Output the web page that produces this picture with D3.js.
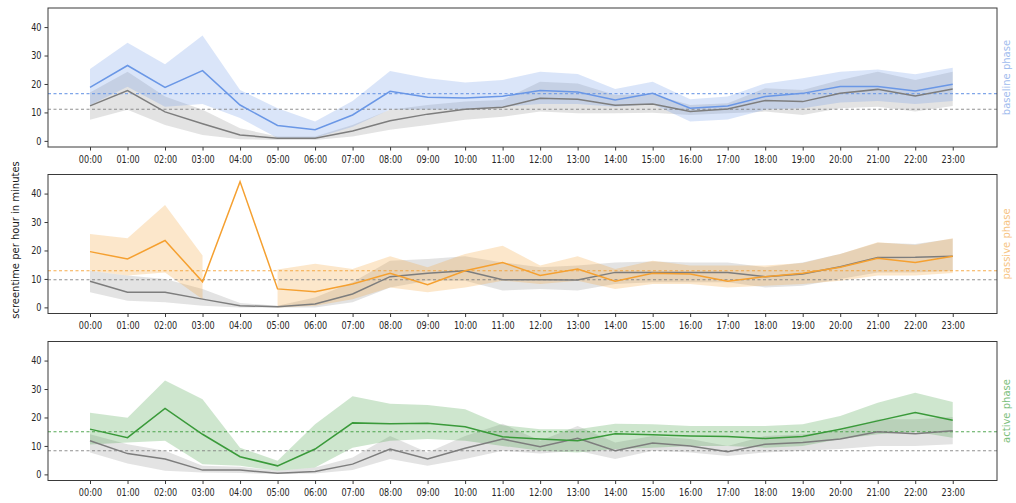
<!DOCTYPE html>
<html><head><meta charset="utf-8">
<script src="https://cdn.jsdelivr.net/npm/d3@7"></script>
<style>body{margin:0;background:#fff}svg{display:block}</style>
</head><body>
<svg id="c" width="1016" height="503"></svg>
<script>
const hours = ["00:00","01:00","02:00","03:00","04:00","05:00","06:00","07:00","08:00","09:00","10:00","11:00","12:00","13:00","14:00","15:00","16:00","17:00","18:00","19:00","20:00","21:00","22:00","23:00"];
const yTicks = [0,10,20,30,40];
const phaseNames = ["baseline phase","passive phase","active phase"];

// baseline phase
const baseMean = [18.8,26.5,18.8,24.7,12.6,5.4,3.9,9.1,17.4,15.3,15.1,15.7,17.7,17.2,14.4,16.7,11.5,12.3,15.6,16.7,19.1,19.1,17.5,19.9];
const baseUpper = [25.3,34.5,26.9,37.0,17.9,11.5,6.8,14.0,24.6,22.0,20.5,21.4,24.3,23.5,18.2,20.8,14.6,15.6,20.2,22.0,24.3,25.1,23.4,25.7];
const baseLower = [12.5,19.0,12.0,13.0,8.0,1.0,1.0,5.0,11.0,11.0,11.0,12.0,13.0,13.0,12.0,13.0,6.8,7.5,11.0,11.5,13.5,14.0,13.0,14.0];
const baseRefMean = [12.3,17.7,10.2,6.0,2.1,0.9,0.9,3.5,7.1,9.4,11.1,11.8,15.0,14.6,12.5,13.0,10.3,11.2,14.2,13.8,16.7,18.1,15.8,18.2];
const baseRefUpper = [17.0,24.3,15.6,10.9,4.4,1.5,1.5,5.6,10.9,12.6,13.8,14.4,20.8,20.2,16.1,16.4,12.6,13.2,18.5,17.9,21.4,24.3,21.4,24.3];
const baseRefLower = [7.4,10.9,5.6,2.1,0.6,0.3,0.3,1.5,3.9,5.6,7.4,8.5,10.3,9.7,9.7,9.9,9.1,9.7,10.3,9.1,11.5,12.0,10.3,12.3];
const baseAvg = 16.6, baseRefAvg = 11.1;

// passive phase (no interval at 04:00)
const passMean = [19.6,17.0,23.5,9.0,44.2,6.5,5.5,8.2,12.0,8.0,12.9,15.8,11.2,13.5,9.2,12.0,11.7,9.2,10.8,12.0,14.1,17.3,15.8,18.0];
const passUpper = [25.8,24.3,36.0,18.2,null,13.3,15.3,13.5,18.0,14.1,18.8,21.7,14.7,18.0,13.5,16.4,14.7,14.7,14.7,15.6,18.8,22.9,21.9,24.3];
const passLower = [13.0,11.2,12.3,2.9,null,0.0,0.6,2.9,7.0,5.3,7.0,9.4,8.2,9.4,6.5,8.2,8.2,7.0,7.6,8.2,9.4,11.2,11.2,12.1];
const passRefMean = [9.2,5.3,5.3,2.9,0.6,0.2,1.2,4.7,10.8,12.0,12.9,9.7,9.7,9.6,12.3,12.3,12.3,12.3,10.8,11.7,14.3,17.5,17.6,18.0];
const passRefUpper = [12.9,11.2,10.0,6.5,1.5,0.6,3.5,8.8,16.4,17.0,18.0,15.8,14.1,14.7,15.8,16.1,15.8,15.8,14.1,15.8,18.8,22.7,22.3,24.1];
const passRefLower = [5.3,2.3,1.8,0.6,0.0,0.0,0.0,1.8,7.0,9.4,9.4,5.9,6.5,5.9,8.2,8.8,8.8,8.8,7.0,7.6,10.0,12.3,12.3,12.9];
const passAvg = 12.9, passRefAvg = 9.7;

// active phase
const actMean = [15.9,12.9,23.2,14.1,6.2,3.0,8.9,18.1,17.8,18.0,16.7,13.2,12.4,11.8,14.3,13.9,13.5,13.3,12.6,13.3,15.9,18.8,21.7,19.0];
const actUpper = [21.7,19.9,33.0,26.4,9.4,4.8,17.6,27.5,24.8,24.4,22.9,17.3,15.9,15.9,17.8,17.6,17.0,17.0,17.0,17.6,20.5,25.2,28.7,25.4];
const actLower = [10.5,11.2,11.8,3.6,3.0,1.3,2.4,9.4,11.8,12.4,11.8,10.0,8.3,7.7,8.9,9.4,10.0,10.0,9.4,10.0,12.4,14.1,15.0,12.9];
const actRefMean = [11.8,7.3,5.4,1.5,1.5,0.4,1.0,3.6,8.9,5.4,9.2,12.4,9.7,12.7,8.3,11.0,10.0,8.0,10.6,11.2,12.4,15.0,14.3,15.3];
const actRefUpper = [14.1,10.6,8.3,3.0,2.7,1.3,2.4,5.9,13.5,7.7,13.5,17.8,11.8,17.0,11.2,13.5,12.4,10.0,13.5,14.1,15.3,19.4,19.4,20.2];
const actRefLower = [7.7,3.8,1.3,0.7,0.5,0.1,0.3,1.5,5.4,3.0,5.4,8.3,7.3,8.3,5.4,8.3,7.7,6.5,7.7,8.3,8.9,10.0,10.0,10.6];
const actAvg = 15.0, actRefAvg = 8.3;

const panels = [
  {name: phaseNames[0], color: "#6a97e6", label: "#9fbcee", mean: baseMean, up: baseUpper, lo: baseLower, rm: baseRefMean, ru: baseRefUpper, rl: baseRefLower, avg: baseAvg, ravg: baseRefAvg},
  {name: phaseNames[1], color: "#f5a030", label: "#f7c483", mean: passMean, up: passUpper, lo: passLower, rm: passRefMean, ru: passRefUpper, rl: passRefLower, avg: passAvg, ravg: passRefAvg},
  {name: phaseNames[2], color: "#3a9a3a", label: "#7cc07c", mean: actMean, up: actUpper, lo: actLower, rm: actRefMean, ru: actRefUpper, rl: actRefLower, avg: actAvg, ravg: actRefAvg}
];

const svg = d3.select("#c");
const L = 48, R = 997, H = 139;
const tops = [8, 174.5, 341.5];
const x = d3.scaleLinear().domain([-1.12, 24.18]).range([L, R]);
const font = "DejaVu Sans, sans-serif";
const sx = 0.81;

panels.forEach((p, i) => {
  const top = tops[i], bot = top + H;
  const y = d3.scaleLinear().domain([-2.15, 46.7]).range([bot, top]);
  const g = svg.append("g");
  const idx = d3.range(hours.length);
  const area = (u, l) => d3.area().defined(k => u[k] != null && l[k] != null)
      .x(k => x(k)).y0(k => y(l[k])).y1(k => y(u[k]));
  const line = m => d3.line().x(k => x(k)).y(k => y(m[k]));

  // reference (gray) band and own band
  g.append("path").datum(idx).attr("d", area(p.ru, p.rl)).attr("fill", "#9a9a9a").attr("fill-opacity", 0.28);
  g.append("path").datum(idx).attr("d", area(p.up, p.lo)).attr("fill", p.color).attr("fill-opacity", 0.25);

  // average dashed lines
  g.append("line").attr("x1", L).attr("x2", R).attr("y1", y(p.avg)).attr("y2", y(p.avg))
    .attr("stroke", p.color).attr("stroke-width", 1.1).attr("stroke-dasharray", "3,2.5").attr("opacity", 0.85);
  g.append("line").attr("x1", L).attr("x2", R).attr("y1", y(p.ravg)).attr("y2", y(p.ravg))
    .attr("stroke", "#7f7f7f").attr("stroke-width", 1.1).attr("stroke-dasharray", "3,2.5").attr("opacity", 0.85);

  g.append("path").datum(idx).attr("d", line(p.rm)).attr("fill", "none").attr("stroke", "#7d7d7d").attr("stroke-width", 1.5);
  g.append("path").datum(idx).attr("d", line(p.mean)).attr("fill", "none").attr("stroke", p.color).attr("stroke-width", 1.5);

  // frame
  g.append("rect").attr("x", L).attr("y", top).attr("width", R - L).attr("height", H)
    .attr("fill", "none").attr("stroke", "#3a3a3a").attr("stroke-width", 1);

  // axes
  const xa = g.append("g").attr("transform", `translate(0,${bot})`)
    .call(d3.axisBottom(x).tickValues(idx).tickFormat(k => hours[k]).tickSize(3.5).tickPadding(3));
  const ya = g.append("g").attr("transform", `translate(${L},0)`)
    .call(d3.axisLeft(y).tickValues(yTicks).tickSize(3.5).tickPadding(3));
  [xa, ya].forEach(a => {
    a.select(".domain").remove();
    a.selectAll("line").attr("stroke", "#3a3a3a");
    a.selectAll("text").attr("fill", "#262626").style("font-family", font).style("font-size", "10px");
  });
  xa.selectAll("text").attr("dy", "0.95em").attr("transform", `scale(${sx},1)`);
  ya.selectAll("text").attr("transform", `scale(${sx},1)`).attr("x", -6.5 / sx);

  // right phase label
  svg.append("text").attr("transform", `translate(1010,${top + H / 2}) rotate(-90)`)
    .attr("text-anchor", "middle").style("font-family", font).style("font-size", "10px")
    .attr("fill", p.label).text(p.name);
});

svg.append("text").attr("transform", "translate(19,240) rotate(-90)")
  .attr("text-anchor", "middle").style("font-family", font).style("font-size", "10px")
  .attr("fill", "#1a1a1a").text("screentime per hour in minutes");
</script>
</body></html>
